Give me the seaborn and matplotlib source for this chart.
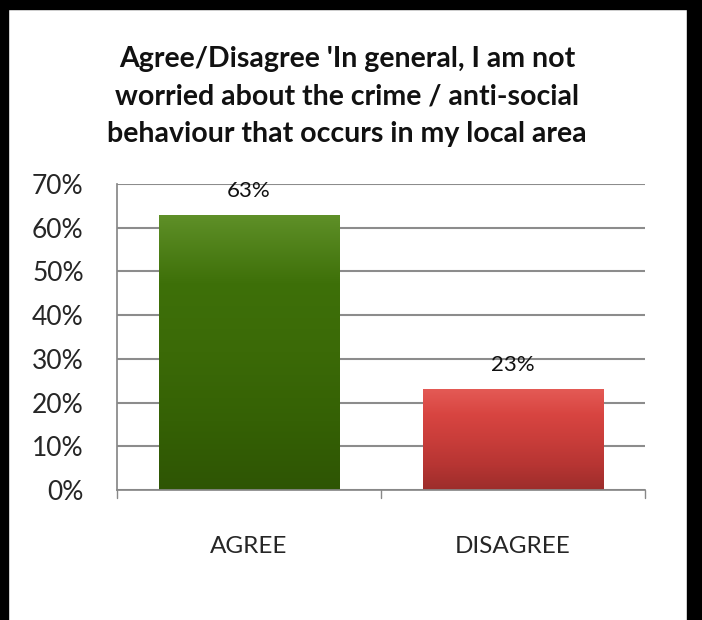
import numpy as np
import matplotlib
matplotlib.use("Agg")
import matplotlib.pyplot as plt
import seaborn as sns
from matplotlib.patches import Rectangle
from matplotlib.colors import LinearSegmentedColormap

categories = ["AGREE", "DISAGREE"]
values = [63, 23]
bar_colors = ["#3b6b08", "#cc3f3c"]
title = "Agree/Disagree 'In general, I am not\nworried about the crime / anti-social\nbehaviour that occurs in my local area"

sns.set_theme(style="white")
plt.rcParams["font.family"] = ["Lato", "DejaVu Sans"]

fig = plt.figure(figsize=(7.02, 6.2), dpi=100)
ax = fig.add_axes([0.1667, 0.2097, 0.752, 0.4935])

sns.barplot(x=categories, y=values, hue=categories, palette=bar_colors,
            width=0.685, legend=False, ax=ax, saturation=1)

# vertical gradient on each bar to mimic the bevelled excel look
grads = [["#5f9028", "#3e7009", "#3b6a07", "#356105", "#2e5504"],
         ["#e45a55", "#d84541", "#c93d3a", "#b73533", "#9c2d2b"]]
for patch, g in zip(ax.patches, grads):
    x0, y0 = patch.get_x(), patch.get_y()
    w, h = patch.get_width(), patch.get_height()
    cmap = LinearSegmentedColormap.from_list("g", g[::-1])
    im = ax.imshow(np.linspace(0, 1, 256).reshape(-1, 1), cmap=cmap, origin="lower",
                   extent=[x0, x0 + w, y0, y0 + h], aspect="auto", zorder=patch.get_zorder() + 0.1)
    im.set_clip_path(patch)
    patch.set_edgecolor("#555555")
    patch.set_linewidth(0.6)

ax.set_xlim(-0.5, 1.5)
ax.set_ylim(0, 70)
ax.set_yticks(range(0, 71, 10))
ax.set_yticklabels([f"{v}%" for v in range(0, 71, 10)], fontsize=19)
ax.set_xticks([0, 1])
ax.set_xticklabels(categories, fontsize=17.5)
ax.tick_params(axis="x", length=0, pad=33)
ax.tick_params(axis="y", length=8, width=1, color="#888888", direction="out", pad=16)
for t in [-0.5, 0.5, 1.5]:
    ax.plot([t, t], [0, -0.027], transform=ax.get_xaxis_transform(), color="#888888",
            lw=1, clip_on=False)
ax.yaxis.grid(True, color="#8c8c8c", lw=1.5)
ax.set_axisbelow(True)
for s in ["top", "right"]:
    ax.spines[s].set_visible(False)
ax.spines["left"].set_color("#888888")
ax.spines["bottom"].set_color("#888888")
ax.set_xlabel("")
ax.set_ylabel("")

for i, v in enumerate(values):
    ax.text(i, v + 5.5, f"{v}%", ha="center", va="center", fontsize=16, color="#111111")

fig.text(0.494, 0.845, title, ha="center", va="center", fontsize=20.5,
         fontweight="bold", linespacing=1.55, color="#111111")

# black frame around the chart
fig.patches.append(Rectangle((0, 0), 0.012, 1, transform=fig.transFigure, color="black"))
fig.patches.append(Rectangle((0, 0.986), 1, 0.014, transform=fig.transFigure, color="black"))
fig.patches.append(Rectangle((0.978, 0), 0.022, 1, transform=fig.transFigure, color="black"))

fig.savefig("out.png", dpi=100)
